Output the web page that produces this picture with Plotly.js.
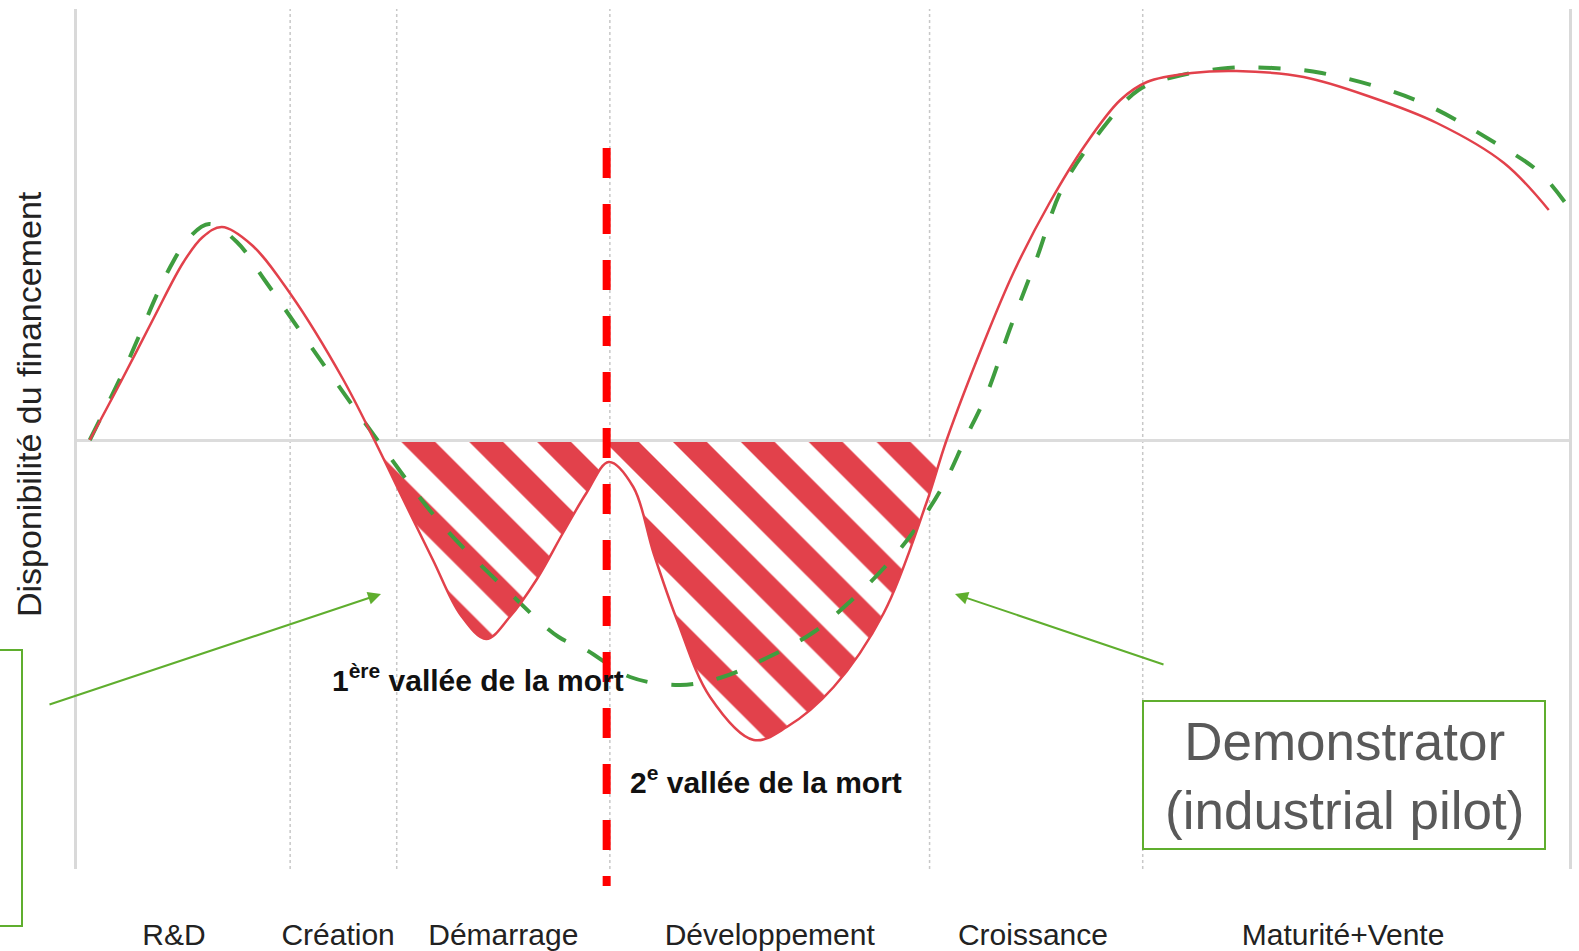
<!DOCTYPE html>
<html>
<head>
<meta charset="utf-8">
<script src="https://cdn.plot.ly/plotly-3.0.1.min.js"></script>
<style>html,body{margin:0;padding:0;background:#fff;}#chart{width:1579px;height:951px;}</style>
</head>
<body>
<div id="chart"></div>
<script>
// ---- Data ----
const phaseLabels = ['R&D', 'Création', 'Démarrage', 'Développement', 'Croissance', 'Maturité+Vente'];
const phaseCenters = [0.91, 2.45, 4.0, 6.5, 8.97, 11.88];
const phaseBounds = [2, 3, 5, 8, 10];

const redX = [0.12, 0.42, 0.72, 1.0, 1.18, 1.36, 1.64, 2.01, 2.49, 2.79, 3.05, 3.34, 3.6, 3.84, 4.06, 4.31, 4.56, 4.78, 4.99, 5.22, 5.41, 5.63, 5.94, 6.35, 6.66, 7.1, 7.57, 7.97, 8.16, 8.5, 8.79, 9.12, 9.46, 9.79, 10.04, 10.46, 10.88, 11.51, 12.14, 12.76, 13.39, 13.81];
const redY = [0, 0.6, 1.22, 1.78, 2.03, 2.13, 1.95, 1.45, 0.62, 0, -0.57, -1.2, -1.75, -1.99, -1.77, -1.4, -0.93, -0.53, -0.22, -0.47, -1.13, -1.8, -2.57, -3.0, -2.87, -2.47, -1.73, -0.63, 0, 0.95, 1.68, 2.36, 2.95, 3.4, 3.58, 3.67, 3.69, 3.63, 3.43, 3.17, 2.77, 2.30];

const greenX = [0.12, 0.45, 0.86, 1.05, 1.24, 1.5, 1.76, 2.33, 2.84, 3.41, 4.06, 4.52, 4.78, 5.19, 5.66, 6.03, 6.47, 6.9, 7.25, 7.58, 7.86, 8.13, 8.33, 8.54, 8.75, 9.0, 9.25, 9.59, 9.96, 10.29, 10.8, 11.22, 11.68, 12.56, 13.31, 13.73, 14.0];
const greenY = [0, 0.72, 1.7, 2.02, 2.16, 1.98, 1.6, 0.73, -0.03, -0.83, -1.53, -1.97, -2.1, -2.37, -2.45, -2.38, -2.18, -1.93, -1.62, -1.27, -0.9, -0.45, 0, 0.47, 1.1, 1.8, 2.53, 3.07, 3.5, 3.63, 3.72, 3.72, 3.67, 3.4, 2.97, 2.67, 2.32];

const valleyMarkerX = 4.97;
const yTitle = 'Disponibilité du financement';
const valley1 = '<b>1<sup>ère</sup> vallée de la mort</b>';
const valley2 = '<b>2<sup>e</sup> vallée de la mort</b>';
const boxText = 'Demonstrator<br>(industrial pilot)';

// ---- Layout helpers ----
const W = 1579, H = 951;
const M = {l: 77, r: 10, t: 9, b: 82};
const PW = W - M.l - M.r, PH = H - M.t - M.b;
const X_RANGE = [0, 14];
const Y_RANGE = [-4.29, 4.31];
const px = p => (p - M.l) / PW;
const py = p => (H - M.b - p) / PH;
const zeroFrac = (0 - Y_RANGE[0]) / (Y_RANGE[1] - Y_RANGE[0]);
const dataToPaperX = v => (v - X_RANGE[0]) / (X_RANGE[1] - X_RANGE[0]);

const RED = '#e2414b';
const GREEN_LINE = '#3f9d3f';
const GREEN_ANN = '#5fae2e';
const FONT = '"Liberation Sans", Arial, Helvetica, sans-serif';

const traces = [
  // hatch: full red curve filled to zero, on a subplot that only covers the negative half
  {
    x: redX, y: redY, yaxis: 'y', mode: 'lines', type: 'scatter', fill: 'tozeroy',
    line: {shape: 'spline', smoothing: 1, width: 0, color: RED},
    fillpattern: {shape: '\\', size: 48, solidity: 0.5, fgcolor: RED, bgcolor: '#ffffff', fillmode: 'replace'},
    hoverinfo: 'skip', showlegend: false
  },
  {
    x: greenX, y: greenY, yaxis: 'y2', mode: 'lines', type: 'scatter',
    line: {shape: 'spline', smoothing: 1, width: 4, color: GREEN_LINE, dash: '22px,24px'},
    showlegend: false
  },
  {
    x: redX, y: redY, yaxis: 'y2', mode: 'lines', type: 'scatter',
    line: {shape: 'spline', smoothing: 1, width: 2.5, color: RED},
    showlegend: false
  }
];

const shapes = phaseBounds.map(b => ({
  type: 'line', xref: 'paper', yref: 'paper', x0: dataToPaperX(b), x1: dataToPaperX(b), y0: 0, y1: 1,
  line: {color: '#c8c8c8', width: 1.5, dash: 'dot'}, layer: 'below'
}));
shapes.push({
  type: 'line', xref: 'paper', yref: 'paper', x0: dataToPaperX(valleyMarkerX), x1: dataToPaperX(valleyMarkerX),
  y0: py(148), y1: py(886), line: {color: '#ff0000', width: 8, dash: '30px,26px'}
});
shapes.push({
  type: 'rect', xref: 'paper', yref: 'paper', x0: px(1143), x1: px(1545), y0: py(849), y1: py(701),
  line: {color: GREEN_ANN, width: 2}, fillcolor: 'rgba(0,0,0,0)'
});
shapes.push({
  type: 'rect', xref: 'paper', yref: 'paper', x0: px(-20), x1: px(22), y0: py(926), y1: py(650),
  line: {color: GREEN_ANN, width: 2}, fillcolor: 'rgba(0,0,0,0)'
});

const txt = (text, x, y, size, color, extra) => Object.assign({
  text: text, xref: 'paper', yref: 'paper', x: px(x), y: py(y),
  xanchor: 'center', yanchor: 'middle', showarrow: false,
  font: {family: FONT, size: size, color: color}
}, extra || {});

const annotations = [
  txt(yTitle, 29, 404, 34, '#222', {textangle: -90}),
  txt(valley1, 478, 678, 30, '#111'),
  txt(valley2, 766, 780, 30, '#111'),
  txt(boxText, 1344, 776, 53, '#595959'),
  {text: '', xref: 'paper', yref: 'paper', x: px(381), y: py(594), ax: 48 - 381, ay: 705 - 594,
   showarrow: true, arrowhead: 2, arrowsize: 1.3, arrowwidth: 2, arrowcolor: GREEN_ANN, standoff: 0},
  {text: '', xref: 'paper', yref: 'paper', x: px(955), y: py(594), ax: 1165 - 955, ay: 665 - 594,
   showarrow: true, arrowhead: 2, arrowsize: 1.3, arrowwidth: 2, arrowcolor: GREEN_ANN, standoff: 0}
];

const layout = {
  width: W, height: H, margin: M,
  paper_bgcolor: '#ffffff', plot_bgcolor: 'rgba(0,0,0,0)',
  font: {family: FONT},
  showlegend: false,
  xaxis: {
    range: X_RANGE, anchor: 'y2', showgrid: false, zeroline: false, showline: false,
    tickmode: 'array', tickvals: phaseCenters, ticktext: phaseLabels,
    ticks: '', ticklabelstandoff: 45,
    tickfont: {family: FONT, size: 30, color: '#222'}, fixedrange: true
  },
  yaxis: {
    domain: [0, zeroFrac], range: [Y_RANGE[0], 0], anchor: 'x',
    visible: false, fixedrange: true
  },
  yaxis2: {
    domain: [0, 1], range: Y_RANGE, anchor: 'x',
    showgrid: false, showticklabels: false, ticks: '',
    zeroline: true, zerolinecolor: '#dcdcdc', zerolinewidth: 3,
    showline: true, mirror: true, linecolor: '#d9d9d9', linewidth: 3, fixedrange: true
  },
  shapes: shapes,
  annotations: annotations
};

Plotly.newPlot('chart', traces, layout, {displayModeBar: false, staticPlot: true});
</script>
</body>
</html>
